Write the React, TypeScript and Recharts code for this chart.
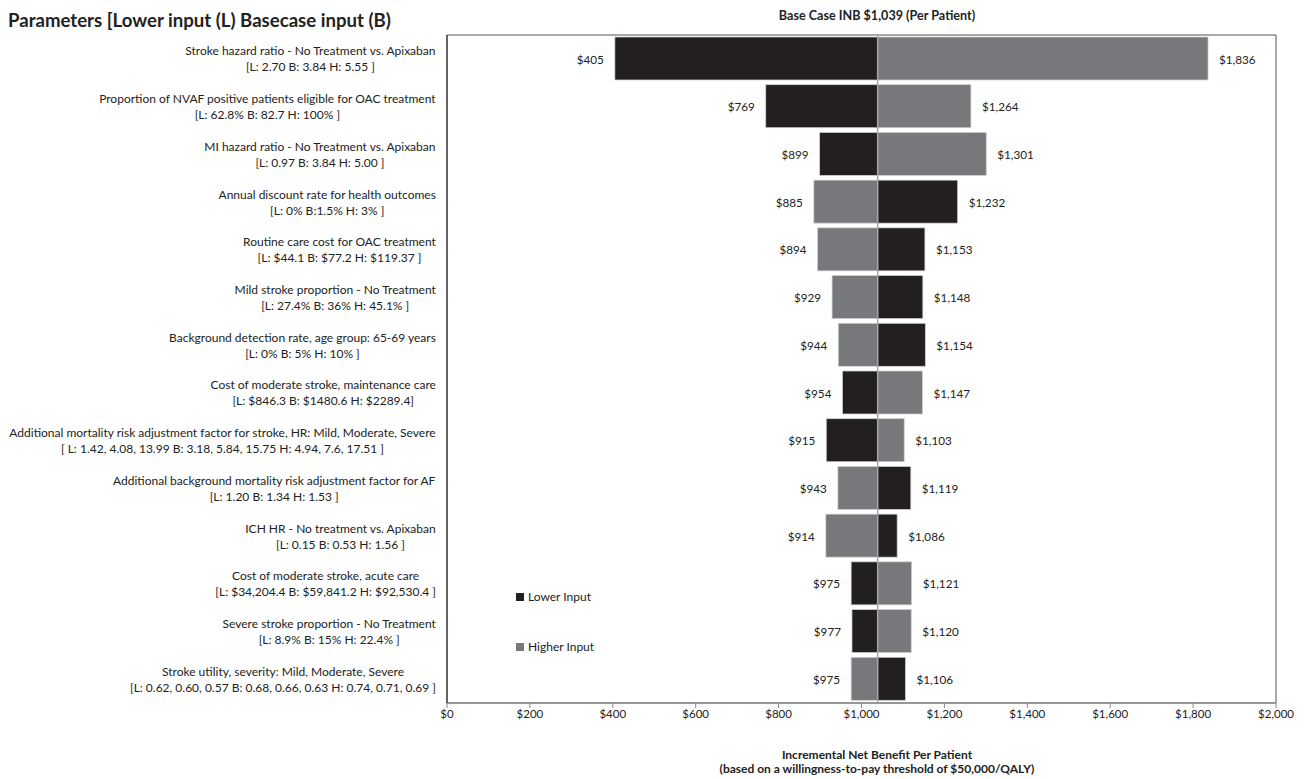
import { BarChart, Bar, XAxis, YAxis, ReferenceLine, ReferenceArea } from "recharts";

const parameterNames = [
  "Stroke hazard ratio - No Treatment vs. Apixaban",
  "Proportion of NVAF positive patients eligible for OAC treatment",
  "MI hazard ratio - No Treatment vs. Apixaban",
  "Annual discount rate for health outcomes",
  "Routine care cost for OAC treatment",
  "Mild stroke proportion - No Treatment",
  "Background detection rate, age group: 65-69 years",
  "Cost of moderate stroke, maintenance care",
  "Additional mortality risk adjustment factor for stroke, HR: Mild, Moderate, Severe",
  "Additional background mortality risk adjustment factor for AF",
  "ICH HR - No treatment vs. Apixaban",
  "Cost of moderate stroke, acute care",
  "Severe stroke proportion - No Treatment",
  "Stroke utility, severity: Mild, Moderate, Severe",
];

const parameterRanges = [
  "[L: 2.70 B: 3.84 H: 5.55 ]",
  "[L: 62.8% B: 82.7 H: 100% ]",
  "[L: 0.97 B: 3.84 H: 5.00 ]",
  "[L: 0% B:1.5% H: 3% ]",
  "[L: $44.1 B: $77.2 H: $119.37 ]",
  "[L: 27.4% B: 36% H: 45.1% ]",
  "[L: 0% B: 5% H: 10% ]",
  "[L: $846.3 B: $1480.6 H: $2289.4]",
  "[ L: 1.42, 4.08, 13.99 B: 3.18, 5.84, 15.75 H: 4.94, 7.6, 17.51 ]",
  "[L: 1.20 B: 1.34 H: 1.53 ]",
  "[L: 0.15 B: 0.53 H: 1.56 ]",
  "[L: $34,204.4 B: $59,841.2 H: $92,530.4 ]",
  "[L: 8.9% B: 15% H: 22.4% ]",
  "[L: 0.62, 0.60, 0.57 B: 0.68, 0.66, 0.63 H: 0.74, 0.71, 0.69 ]",
];

// INB per patient when the parameter is set to its lower / higher input
const lowerInputINB = [405, 769, 899, 1232, 1153, 1148, 1154, 954, 915, 1119, 1086, 975, 977, 1106];
const higherInputINB = [1836, 1264, 1301, 885, 894, 929, 944, 1147, 1103, 943, 914, 1121, 1120, 975];

const BASE_CASE = 1039;
const xTicks = [0, 200, 400, 600, 800, 1000, 1200, 1400, 1600, 1800, 2000];

const BLACK = "#231f20";
const GRAY = "#77787b";
const FONT = "Lato, 'Open Sans', sans-serif";

const data = parameterNames.map((name, i) => ({
  name,
  range: parameterRanges[i],
  lower: lowerInputINB[i],
  higher: higherInputINB[i],
  lowerBar: [Math.min(lowerInputINB[i], BASE_CASE), Math.max(lowerInputINB[i], BASE_CASE)],
  higherBar: [Math.min(higherInputINB[i], BASE_CASE), Math.max(higherInputINB[i], BASE_CASE)],
}));

let ctx: CanvasRenderingContext2D | null = null;
function textWidth(s: string, font: string) {
  if (!ctx) ctx = document.createElement("canvas").getContext("2d");
  if (!ctx) return s.length * 5.8;
  ctx.font = font;
  return ctx.measureText(s).width;
}

const fmt = (v: number) => "$" + v.toLocaleString("en-US");

function ParamTick(props: any) {
  const { y, payload, index } = props;
  const row = data.find((d) => d.name === payload.value) ?? data[index];
  const fs = 12;
  const w = Math.max(textWidth(row.name, `${fs}px Lato`), textWidth(row.range, `${fs}px Lato`));
  const cx = 428 - w / 2;
  return (
    <g>
      <text x={cx} y={y - 8} textAnchor="middle" dominantBaseline="central" fontSize={fs} fontFamily={FONT} fill="#222">
        {row.name}
      </text>
      <text x={cx} y={y + 8} textAnchor="middle" dominantBaseline="central" fontSize={fs} fontFamily={FONT} fill="#222">
        {row.range}
      </text>
    </g>
  );
}

function makeShape(fill: string, key: "lower" | "higher") {
  return (props: any) => {
    const { x, y, width, height, payload } = props;
    const v = payload[key];
    const left = width < 0 ? x + width : x;
    const w = Math.abs(width);
    const onLeft = v < BASE_CASE;
    return (
      <g>
        <rect x={left} y={y} width={w} height={height} fill={fill} stroke="#d0d0d0" strokeWidth={0.75} />
        <text
          x={onLeft ? left - 11 : left + w + 11}
          y={y + height / 2}
          textAnchor={onLeft ? "end" : "start"}
          dominantBaseline="central"
          fontSize={11.7}
          fontFamily={FONT}
          fill="#222"
        >
          {fmt(v)}
        </text>
      </g>
    );
  };
}

export default function App() {
  return (
    <div style={{ position: "relative", width: 1298, height: 771, fontFamily: FONT, color: "#222" }}>
      <div style={{ position: "absolute", left: 0, top: 1, fontSize: 18.6, lineHeight: "22px", fontWeight: 700, whiteSpace: "nowrap" }}>
        Parameters [Lower input (L) Basecase input (B)
      </div>
      <div style={{ position: "absolute", left: 669, width: 400, top: 0, fontSize: 12.6, lineHeight: "15px", fontWeight: 700, textAlign: "center" }}>
        Base Case INB $1,039 (Per Patient)
      </div>
      <BarChart
        width={1298}
        height={771}
        data={data}
        layout="vertical"
        margin={{ top: 27, right: 30, left: 0, bottom: 46 }}
      >
        <XAxis
          type="number"
          domain={[0, 2000]}
          ticks={xTicks}
          tickFormatter={fmt}
          axisLine={{ stroke: "#888" }}
          tickLine={{ stroke: "#888" }}
          tickSize={5}
          tick={{ fontSize: 11.5, fontFamily: FONT, fill: "#222" }}
          height={30}
        />
        <YAxis
          yAxisId="a"
          type="category"
          dataKey="name"
          width={439}
          axisLine={{ stroke: "#222" }}
          tickLine={false}
          interval={0}
          tick={<ParamTick />}
        />
        <YAxis yAxisId="b" type="category" dataKey="name" hide />
        <ReferenceArea yAxisId="a" x1={0} x2={2000} fill="none" stroke="#555" strokeWidth={1} />
        <Bar yAxisId="a" dataKey="lowerBar" barSize={43} fill={BLACK} shape={makeShape(BLACK, "lower")} isAnimationActive={false} />
        <Bar yAxisId="b" dataKey="higherBar" barSize={43} fill={GRAY} shape={makeShape(GRAY, "higher")} isAnimationActive={false} />
        <ReferenceLine yAxisId="a" x={BASE_CASE} stroke="#a6a6a6" strokeWidth={1.5} />
      </BarChart>
      <div style={{ position: "absolute", left: 508, top: 581, fontSize: 12, lineHeight: "16px" }}>
        <div style={{ display: "flex", alignItems: "center", gap: 4 }}>
          <span style={{ width: 8, height: 8, background: BLACK, display: "inline-block" }} />
          Lower Input
        </div>
        <div style={{ display: "flex", alignItems: "center", gap: 4, marginTop: 34 }}>
          <span style={{ width: 8, height: 8, background: GRAY, display: "inline-block" }} />
          Higher Input
        </div>
      </div>
      <div style={{ position: "absolute", left: 619, width: 500, top: 740, fontSize: 12, lineHeight: "14px", fontWeight: 700, textAlign: "center" }}>
        Incremental Net Benefit Per Patient
        <br />
        (based on a willingness-to-pay threshold of $50,000/QALY)
      </div>
    </div>
  );
}
